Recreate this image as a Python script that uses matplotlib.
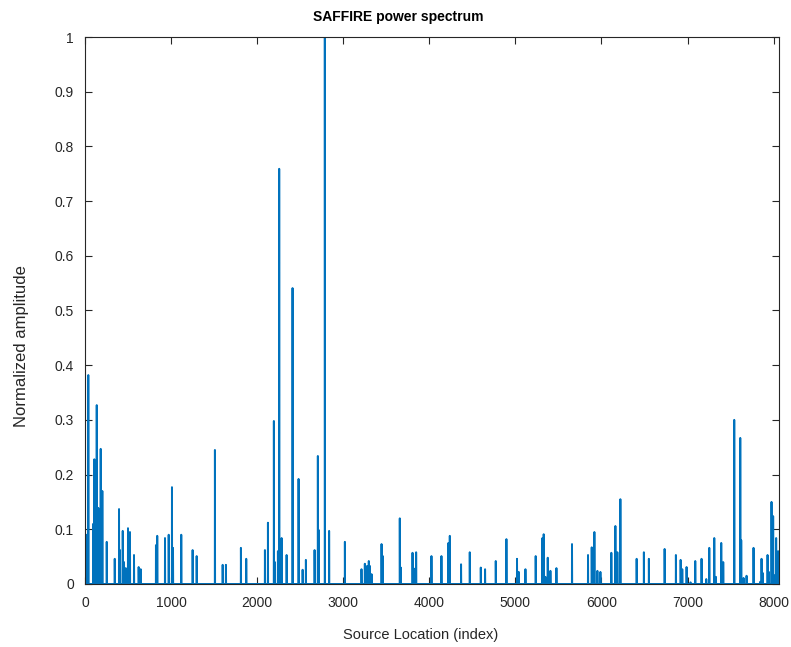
import numpy as np
import matplotlib
matplotlib.use("Agg")
import matplotlib.pyplot as plt

# number of source locations
n_points = 8060

# spike locations (index) and normalized amplitudes
spike_idx = [3, 20, 38, 96, 108, 136, 154, 166, 182, 201, 252, 345, 395, 406, 438, 453,
             473, 499, 522, 569, 623, 647, 824, 839, 929, 972, 1010, 1022, 1118, 1250,
             1297, 1509, 1599, 1637, 1811, 1873, 2090, 2125, 2194, 2206, 2241, 2256,
             2284, 2342, 2411, 2481, 2528, 2566, 2667, 2705, 2713, 2786, 2836, 3019,
             3212, 3251, 3278, 3297, 3309, 3329, 3445, 3460, 3657, 3669, 3805, 3824,
             3847, 4025, 4141, 4222, 4238, 4369, 4470, 4598, 4648, 4772, 4896, 5019,
             5039, 5117, 5236, 5314, 5329, 5349, 5376, 5407, 5477, 5658, 5844, 5887,
             5918, 5953, 5988, 6115, 6162, 6185, 6220, 6409, 6493, 6551, 6734, 6865,
             6920, 6939, 6989, 7035, 7090, 7163, 7218, 7253, 7311, 7330, 7392, 7415,
             7543, 7613, 7624, 7651, 7686, 7767, 7845, 7860, 7875, 7930, 7945, 7976,
             7995, 8007, 8030, 8053]
spike_val = [0.05, 0.09, 0.382, 0.11, 0.228, 0.327, 0.139, 0.035, 0.247, 0.17, 0.077,
             0.046, 0.137, 0.062, 0.097, 0.04, 0.029, 0.102, 0.095, 0.053, 0.031, 0.027,
             0.071, 0.088, 0.084, 0.09, 0.177, 0.066, 0.09, 0.062, 0.051, 0.245, 0.035,
             0.035, 0.066, 0.046, 0.062, 0.112, 0.298, 0.04, 0.06, 0.759, 0.084, 0.053,
             0.541, 0.192, 0.026, 0.044, 0.062, 0.234, 0.099, 1.0, 0.097, 0.077, 0.027,
             0.037, 0.033, 0.042, 0.033, 0.018, 0.073, 0.051, 0.12, 0.03, 0.057, 0.028,
             0.058, 0.051, 0.051, 0.075, 0.088, 0.036, 0.058, 0.03, 0.027, 0.042, 0.082,
             0.046, 0.022, 0.027, 0.051, 0.084, 0.091, 0.013, 0.048, 0.024, 0.029, 0.073,
             0.053, 0.067, 0.095, 0.024, 0.022, 0.057, 0.106, 0.058, 0.155, 0.046, 0.058,
             0.046, 0.064, 0.053, 0.044, 0.027, 0.031, 0.003, 0.042, 0.046, 0.009, 0.066,
             0.084, 0.013, 0.075, 0.04, 0.3, 0.267, 0.08, 0.011, 0.015, 0.066, 0.004,
             0.046, 0.02, 0.053, 0.022, 0.15, 0.124, 0.016, 0.084, 0.06]

x_ticks = [0, 1000, 2000, 3000, 4000, 5000, 6000, 7000, 8000]
y_ticks = [0, 0.1, 0.2, 0.3, 0.4, 0.5, 0.6, 0.7, 0.8, 0.9, 1]
y_tick_labels = ["0", "0.1", "0.2", "0.3", "0.4", "0.5", "0.6", "0.7", "0.8", "0.9", "1"]

spectrum = np.zeros(n_points)
spectrum[spike_idx] = spike_val

plt.rcParams["font.family"] = ["Liberation Sans", "DejaVu Sans"]

W, H = 791, 647
fig = plt.figure(figsize=(W / 100, H / 100), dpi=100)
ax = fig.add_axes([0.1075, 0.0974, 0.877, 0.8454])

ax.plot(np.arange(n_points), spectrum, color="#0072BD", linewidth=1.4)

ax.set_xlim(0, n_points)
ax.set_ylim(0, 1)
ax.set_xticks(x_ticks)
ax.set_yticks(y_ticks)
ax.set_yticklabels(y_tick_labels)

ax.tick_params(direction="in", top=True, right=True, length=5, width=0.8,
               colors="#262626", labelsize=10)
ax.tick_params(axis="x", pad=9)
ax.tick_params(axis="y", pad=8)
for side in ax.spines.values():
    side.set_color("#262626")
    side.set_linewidth(0.8)

# title and axis labels sit a bit off-centre in the original, place them by hand
fig.text(398 / W, 1 - 17 / H, "SAFFIRE power spectrum", fontsize=10, fontweight="bold",
         ha="center", va="center")
fig.text(421 / W, 1 - 635 / H, "Source Location (index)", fontsize=10.5, color="#262626",
         ha="center", va="center")
fig.text(22 / W, 1 - 346 / H, "Normalized amplitude", fontsize=12, color="#262626",
         ha="center", va="center", rotation=90)

fig.savefig("out.png", dpi=100)
